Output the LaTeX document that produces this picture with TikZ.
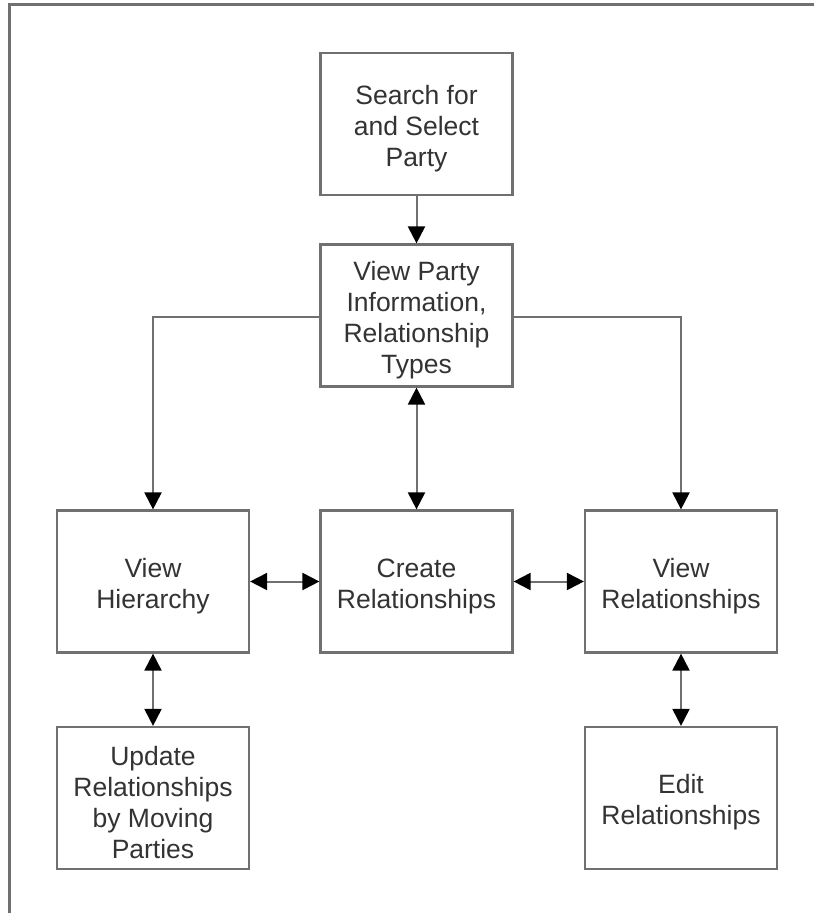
\documentclass[tikz,border=0pt]{standalone}
\usepackage{fontspec}
\setmainfont{Liberation Sans}
\usetikzlibrary{arrows.meta}
\definecolor{linegray}{HTML}{707070}
\begin{document}
\begin{tikzpicture}[x=1pt,y=-1pt,
  box/.style={draw=linegray,line width=2.2pt,minimum width=192pt,minimum height=142pt,
    inner sep=0pt,label={[txt]center:#1}},
  txt/.style={align=center,inner sep=0pt,yshift=-4.5pt,font=\fontsize{26.5}{31}\selectfont,text=black!80},
  conn/.style={draw=linegray,line width=2pt},
  tip/.style={-{Triangle[length=17pt,width=17pt,color=black]}},
  tips/.style={{Triangle[length=17pt,width=17pt,color=black]}-{Triangle[length=17pt,width=17pt,color=black]}}]
\useasboundingbox (0,0) rectangle (814,915);
\fill[white] (0,0) rectangle (814,915);
\draw[linegray,line width=3pt] (9,913) -- (9,5) -- (814,5);
\node[box={Search for\\and Select\\Party}] (search) at (416.5,124) {};
\node[box={View Party\\Information,\\Relationship\\Types}] (view) at (416.5,315.5) {};
\node[box={View\\Hierarchy}] (hier) at (153,581.5) {};
\node[box={Create\\Relationships}] (create) at (416.5,581.5) {};
\node[box={View\\Relationships}] (vrel) at (681,581.5) {};
\node[box={Update\\Relationships\\by Moving\\Parties}] (upd) at (153,798) {};
\node[box={Edit\\Relationships}] (edit) at (681,798) {};
\draw[conn,tip] (search) -- (view);
\draw[conn,tip] (view.west |- 0,316.5) -| (hier.north);
\draw[conn,tip] (view.east |- 0,316.5) -| (vrel.north);
\draw[conn,tips] (view) -- (create);
\draw[conn,tips] (hier) -- (create);
\draw[conn,tips] (create) -- (vrel);
\draw[conn,tips] (hier) -- (upd);
\draw[conn,tips] (vrel) -- (edit);
\end{tikzpicture}
\end{document}
